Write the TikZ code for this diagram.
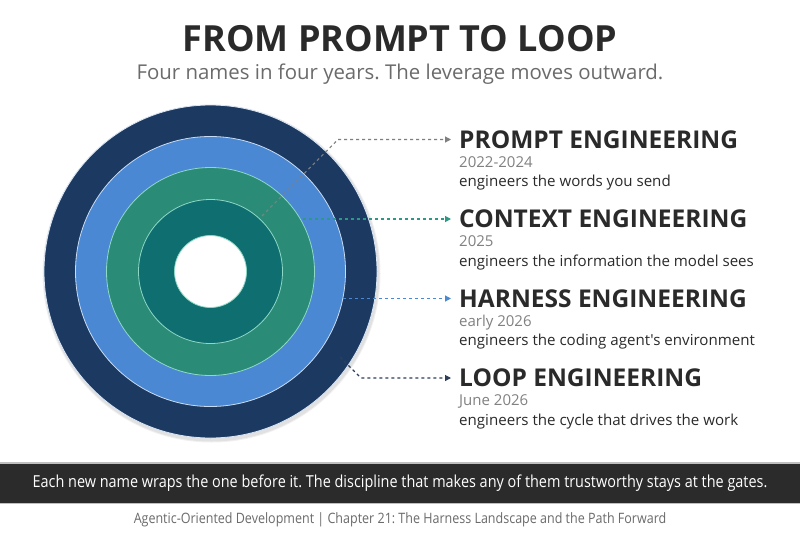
\documentclass[tikz,border=0pt]{standalone}
\usepackage{fontspec}
\setmainfont{Open Sans}[Ligatures=TeXOff]
\newfontfamily\condfont[FakeStretch=0.875,Ligatures=TeXOff]{Open Sans}
\usetikzlibrary{arrows.meta}
\frenchspacing
\definecolor{navy}{HTML}{1C3A61}
\definecolor{ringblue}{HTML}{4A88D4}
\definecolor{ringgreen}{HTML}{2A8B77}
\definecolor{ringteal}{HTML}{0F6E70}
\definecolor{edgemint}{HTML}{8ED8C6}
\definecolor{inkdark}{HTML}{2A2A2A}
\definecolor{inkgray}{HTML}{6B6B6B}
\definecolor{bandgray}{HTML}{2B2B2B}
\definecolor{cprompt}{HTML}{7F7F7F}
\definecolor{ccontext}{HTML}{2A9A85}
\definecolor{charness}{HTML}{4A88D4}
\definecolor{cloop}{HTML}{2C3E5A}
\tikzset{
  ring/.style={line width=0.8pt},
  head/.style={anchor=west, inner sep=0pt, font=\fontsize{24.5}{24.5}\selectfont\bfseries, text=inkdark},
  datetxt/.style={anchor=base west, inner sep=0pt, font=\fontsize{15}{15}\selectfont, text=inkgray!85},
  desctxt/.style={anchor=base west, inner sep=0pt, font=\fontsize{15.1}{15.1}\selectfont, text=inkdark},
  conn/.style={dash pattern=on 3pt off 3pt, line width=1.1pt, -{Triangle[length=6pt,width=6pt]}},
}
\begin{document}
\begin{tikzpicture}[x=1pt,y=-1pt]
\useasboundingbox (0,0) rectangle (800,536);
\fill[white] (0,0) rectangle (800,536);
% title
\node[inner sep=0pt, font=\fontsize{36}{36}\selectfont\bfseries, text=inkdark] (title) at (400,39) {FROM PROMPT TO LOOP};
\node[inner sep=0pt, font=\fontsize{20.4}{20.4}\selectfont, text=inkgray] (subtitle) at (400,74) {Four names in four years. The leverage moves outward.};
% target
\coordinate (c) at (210.5,271.5);
\fill[black, opacity=0.06] ([shift={(1,2)}]c) circle (169pt);
\fill[black, opacity=0.06] ([shift={(1,2)}]c) circle (168pt);
\filldraw[ring, fill=navy, draw=white!80!ringblue] (c) circle (166.5pt);
\filldraw[ring, fill=ringblue, draw=white!70!ringblue] (c) circle (135pt);
\filldraw[ring, fill=ringgreen, draw=edgemint] (c) circle (104pt);
\filldraw[ring, fill=ringteal, draw=edgemint] (c) circle (72pt);
\filldraw[ring, fill=white, draw=edgemint] (c) circle (36pt);
% labels
\node[head] (ph) at (459,139.5) {PROMPT ENGINEERING};
\node[datetxt] (pd) at (459,167) {2022-2024};
\node[desctxt] (pt) at (459,186.5) {engineers the words you send};
\node[head] (ch) at (459,219) {CONTEXT ENGINEERING};
\node[datetxt] (cd) at (459,246.5) {2025};
\node[desctxt] (ct) at (459,266) {engineers the information the model sees};
\node[head] (hh) at (459,298.5) {HARNESS ENGINEERING};
\node[datetxt] (hd) at (459,326) {early 2026};
\node[desctxt] (ht) at (459,345.5) {engineers the coding agent's environment};
\node[head] (lh) at (459,378) {LOOP ENGINEERING};
\node[datetxt] (ld) at (459,405.5) {June 2026};
\node[desctxt] (lt) at (459,425) {engineers the cycle that drives the work};
% connectors
\coordinate (ps) at (262,216);
\coordinate (pb) at (338,139.5);
\coordinate (cs) at (303,219);
\coordinate (hs) at (325,298.5);
\coordinate (ls) at (340,357);
\coordinate (lb) at (361,378);
\draw[conn, draw=cprompt] (ps) -- (pb) -- ([xshift=-8pt]ph.west);
\draw[conn, draw=ccontext] (cs) -- ([xshift=-8pt]ch.west);
\draw[conn, draw=charness] (hs) -- ([xshift=-8pt]hh.west);
\draw[conn, draw=cloop] (ls) -- (lb) -- ([xshift=-8pt]lh.west);
% band
\fill[black!25] (0,462) rectangle (800,504);
\fill[bandgray] (0,463.5) rectangle (800,502.5);
\node[inner sep=0pt, font=\condfont\fontsize{16.5}{16.5}\selectfont, text=white] (band) at (400,483) {Each new name wraps the one before it. The discipline that makes any of them trustworthy stays at the gates.};
\node[inner sep=0pt, font=\condfont\fontsize{14.3}{14.3}\selectfont, text=inkgray] (footer) at (400,520) {Agentic-Oriented Development | Chapter 21: The Harness Landscape and the Path Forward};
\end{tikzpicture}
\end{document}
